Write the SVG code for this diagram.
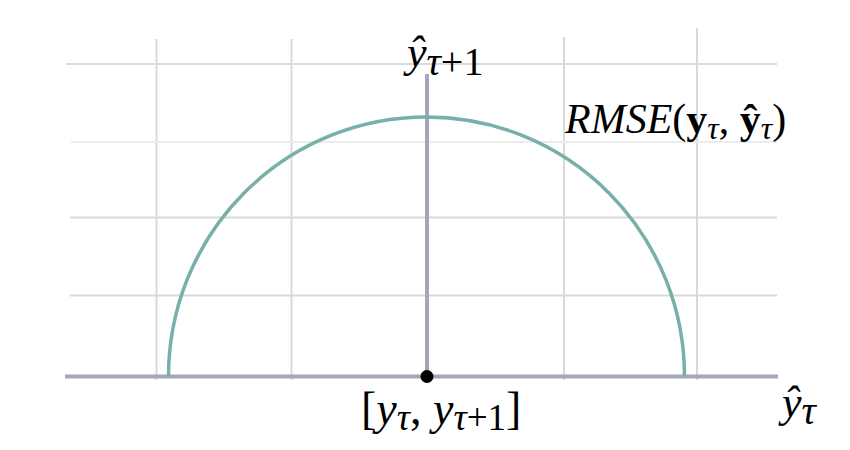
<svg xmlns="http://www.w3.org/2000/svg" width="850" height="450" viewBox="0 0 850 450">
<style>
.grid{stroke:#d9d9d9;stroke-width:2;fill:none}
.gridl{stroke:#ececec;stroke-width:2;fill:none}
.axis{stroke:#a6a6ba;stroke-width:4;fill:none}
.curve{stroke:#77b0aa;stroke-width:3.5;fill:none}
.t{font-family:"Liberation Serif","Times New Roman",serif;fill:#000}
.i{font-style:italic}
.b{font-weight:bold}
</style>
<rect width="850" height="450" fill="#fff"/>
<g id="grid">
<line class="grid" x1="156.5" y1="39" x2="156.5" y2="380"/>
<line class="grid" x1="291.5" y1="39" x2="291.5" y2="380"/>
<line class="grid" x1="564" y1="37" x2="564" y2="380"/>
<line class="grid" x1="697" y1="28" x2="697" y2="380"/>
<line class="grid" x1="66" y1="64" x2="777" y2="64"/>
<line class="gridl" x1="71" y1="142" x2="777" y2="142"/>
<line class="grid" x1="70" y1="217.5" x2="777" y2="217.5"/>
<line class="grid" x1="70" y1="295.5" x2="777" y2="295.5"/>
</g>
<g id="connectors">
<line class="axis" x1="65" y1="376.5" x2="778" y2="376.5"/>
<line class="axis" x1="427" y1="74" x2="427" y2="376.5"/>
<path id="semicircle" class="curve" d="M168.5,376.5 A258,259.5 0 0 1 684.5,376.5"/>
</g>
<g id="origin">
<circle cx="427" cy="376.5" r="6.5" fill="#000"/>
</g>
<g id="label-top">
<text class="t" x="407" y="67" font-size="44"><tspan class="i">ŷ</tspan><tspan font-size="40" dy="8"><tspan class="i">τ</tspan>+1</tspan></text>
</g>
<g id="label-rmse">
<text class="t" x="565" y="133" font-size="42"><tspan class="i">RMSE</tspan>(<tspan class="b">y</tspan><tspan class="i" font-size="32" dy="6">τ</tspan><tspan dy="-6">, </tspan><tspan class="b">ŷ</tspan><tspan class="i" font-size="32" dy="6">τ</tspan><tspan dy="-6">)</tspan></text>
</g>
<g id="label-origin">
<text class="t" x="361" y="424" font-size="46">[<tspan class="i">y</tspan><tspan class="i" font-size="37" dy="6">τ</tspan><tspan dy="-6">, </tspan><tspan class="i">y</tspan><tspan font-size="37" dy="6"><tspan class="i">τ</tspan>+1</tspan><tspan dy="-6">]</tspan></text>
</g>
<g id="label-right">
<text class="t" x="782" y="417" font-size="44"><tspan class="i">ŷ</tspan><tspan class="i" font-size="40" dy="7">τ</tspan></text>
</g>
</svg>
